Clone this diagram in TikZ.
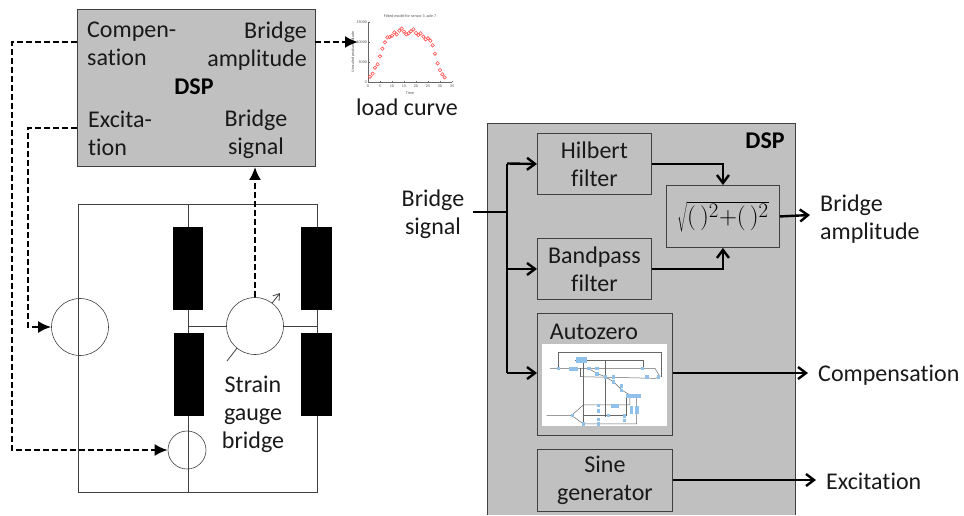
\documentclass[tikz,border=0pt]{standalone}
\usepackage{fontspec}
\setmainfont{Carlito}[Ligatures=NoCommon]
\usetikzlibrary{arrows.meta}

\definecolor{dspgray}{HTML}{C0C0C0}
\definecolor{edgegray}{HTML}{404040}
\definecolor{thumbblue}{HTML}{8FC1EA}
\definecolor{thumbline}{HTML}{666666}

\tikzset{
    label22/.style={font=\fontsize{24}{28}\selectfont, text=black!90, inner sep=0pt, align=center},
    labelleft/.style={label22, align=left},
    labelright/.style={label22, align=right},
    labelbold/.style={font=\fontsize{24}{26}\selectfont\bfseries, text=black, inner sep=0pt},
    dspbox/.style={draw=edgegray, line width=0.9pt, fill=dspgray, inner sep=0pt},
    blockbox/.style={dspbox, anchor=north west},
    gaugebar/.style={fill=black, inner sep=0pt, minimum width=30pt, minimum height=83pt},
    bridgering/.style={circle, draw=edgegray, line width=0.6pt, fill=white, inner sep=0pt},
    wire/.style={draw=black!75, line width=0.8pt},
    dashlink/.style={line width=2.3pt, dash pattern=on 6pt off 3pt, -{Latex[length=13pt,width=12pt]}},
    solidlink/.style={line width=2.4pt, -{Straight Barb[length=8pt,width=12pt]}},
    plotmark/.style={circle, draw=red!70, line width=0.6pt, inner sep=0pt, minimum size=3.4pt},
    ticktext/.style={font=\fontsize{4}{5}\selectfont, text=black!70, inner sep=0pt}
}

\begin{document}
\begin{tikzpicture}[x=1pt, y=-1pt]
\useasboundingbox (0,0) rectangle (964,515);

% Left DSP
\node[blockbox, minimum width=238pt, minimum height=157pt] (dspleft) at (77,9) {};
\node[labelleft, anchor=north west] (compensout) at (87,22) {Compen-\\sation};
\node[labelright, anchor=north east] (ampout) at (307,22) {Bridge\\amplitude};
\node[labelbold] (dsplefttitle) at (194,87) {DSP};
\node[labelleft, anchor=north west] (excout) at (88,111) {Excita-\\tion};
\node[label22] (signalin) at (256,134) {Bridge\\signal};

% Load curve
\coordinate (plotorigin) at (368,82);
\draw[black!60, line width=0.4pt] (368,22) -- (plotorigin) -- (452,82);
\foreach \px in {0,5,...,35} {
    \draw[black!60, line width=0.3pt] (368+2.4*\px,82) -- (368+2.4*\px,80.5);
    \node[ticktext] at (368+2.4*\px,86) {\px};
}
\foreach \py/\plab in {0/0,5/5000,10/10000,15/15000} {
    \draw[black!60, line width=0.3pt] (368,82-4*\py) -- (369.5,82-4*\py);
    \node[ticktext, anchor=east] at (367,82-4*\py) {\plab};
}
\node[ticktext] (plottitle) at (410,16) {Fitted model for sensor 3, axle 7};
\node[ticktext] (plotxlabel) at (410,93) {Time};
\node[ticktext, rotate=90] (plotylabel) at (353,52) {Unscaled peak amplitude};
\foreach \px/\py in {90/230,98/221,105/203,113/193,120/169,127/146,135/127,142/112,149/111,156/107,163/97,170/103,178/92,185/86,192/95,199/103,206/100,213/94,220/88,228/99,235/105,242/100,250/110,257/118,264/115,271/122,278/136,285/161,293/190,300/210,307/223,314/232}
    \node[plotmark] at (340+\px/3,\py/3) {};
\node[label22] (loadcurve) at (407,107) {load curve};

% Strain gauge bridge
\coordinate (topleft) at (78,204);
\coordinate (topmid) at (188,204);
\coordinate (topright) at (317,204);
\coordinate (botleft) at (78,492);
\coordinate (botmid) at (188,492);
\coordinate (botright) at (317,492);
\coordinate (midleft) at (188,326);
\coordinate (midright) at (317,326);
\draw[wire] (topleft) -- (topright) -- (botright) -- (botleft) -- cycle;
\draw[wire] (topmid) -- (botmid);
\draw[wire] (midleft) -- (midright);

\node[gaugebar] (gaugea) at (188,268.5) {};
\node[gaugebar] (gaugeb) at (189,374.5) {};
\node[gaugebar, minimum width=31pt] (gaugec) at (316.5,268.5) {};
\node[gaugebar, minimum width=31pt] (gauged) at (316.5,374.5) {};

\coordinate (needlestart) at (227,361);
\coordinate (needleend) at (280,293);
\draw[wire, -{Straight Barb[length=6pt,width=8pt]}] (needlestart) -- (needleend);
\node[bridgering, minimum size=57pt] (meter) at (255,326) {};
\node[bridgering, minimum size=57pt, fill=none] (supply) at (80,327) {};
\node[bridgering, minimum size=38pt, fill=none] (compsource) at (187,450) {};
\node[label22] (gaugetext) at (253,414) {Strain\\gauge\\bridge};

% Dashed links
\coordinate (compstart) at (77,42);
\coordinate (compcorner) at (12,42);
\coordinate (excstart) at (77,128);
\coordinate (exccorner) at (28,128);
\coordinate (curvestart) at (315,42);
\coordinate (curvein) at (358,42);
\draw[dashlink] (compstart) -- (compcorner) |- (compsource.west);
\draw[dashlink] (excstart) -- (exccorner) |- (supply.west);
\draw[dashlink] (meter.north) -- (dspleft.south -| meter.north);
\draw[dashlink] (curvestart) -- (curvein);

% Right DSP
\fill[dspgray] (487,123) rectangle (795,515);
\coordinate (dspnw) at (487,123);
\coordinate (dspne) at (795,123);
\coordinate (dspsw) at (487,515);
\coordinate (dspse) at (795,515);
\draw[edgegray, line width=0.9pt] (dspsw) -- (dspnw) -- (dspne) -- (dspse);
\node[labelbold] (dsprighttitle) at (765,141) {DSP};

% Blocks
\node[blockbox, minimum width=114pt, minimum height=61pt] (hilbert) at (537,133) {};
\node[label22] at (hilbert.center) {Hilbert\\filter};
\node[blockbox, minimum width=114pt, minimum height=61pt] (bandpass) at (537,238) {};
\node[label22] at (bandpass.center) {Bandpass\\filter};
\node[blockbox, minimum width=135pt, minimum height=122pt] (autozero) at (537,313) {};
\node[label22] at (594,332) {Autozero};
\node[blockbox, minimum width=135pt, minimum height=62pt] (sine) at (537,449) {};
\node[label22] at (sine.center) {Sine\\generator};
\node[blockbox, minimum width=113pt, minimum height=62pt] (root) at (666,185) {};
\node[font=\fontsize{31}{34}\selectfont, inner sep=0pt] at (root.center) {$\sqrt{(\,)^2{+}(\,)^2}$};

% Autozero thumbnail
\node[fill=white, inner sep=0pt, anchor=north west, minimum width=125pt, minimum height=82pt] (thumb) at (542,344) {};
\begin{scope}[shift={(530,310)}, x=0.3333pt, y=-0.3333pt, thumbline, line width=0.5pt]
\draw (60,175) -- (375,175) -- (390,200) -- (375,205) -- (150,200);
\draw (85,175) -- (85,128) -- (395,128) -- (395,200);
\draw (150,175) -- (150,200);
\draw (135,150) -- (340,150) -- (340,180);
\draw (160,150) -- (160,340);
\draw (175,175) -- (200,190) -- (225,200) -- (250,215) -- (275,240) -- (300,255) -- (330,258);
\draw (225,150) -- (225,320);
\draw (50,316) -- (125,316) -- (160,285) -- (240,285) -- (300,285) -- (300,262);
\draw (125,316) -- (160,342) -- (320,342) -- (320,262);
\draw (160,316) -- (235,316) -- (290,316) -- (290,262);
\foreach \tx/\ty in {85/176,177/176,201/176,201/192,226/201,251/201,251/216,275/228,275/242,337/176,351/201,385/201,127/316,205/287,205/303,236/317,283/318,283/332,205/328,205/342,161/342}
    \fill[thumbblue] (\tx-5,\ty-5) rectangle (\tx+5,\ty+5);
\fill[thumbblue] (116,171) rectangle (144,182);
\fill[thumbblue] (137,142) rectangle (172,158);
\fill[thumbblue] (242,281) rectangle (268,293);
\fill[thumbblue] (287,251) rectangle (332,264);
\fill[thumbblue] (300,287) rectangle (310,313);
\fill[thumbblue] (316,287) rectangle (326,313);
\end{scope}

% Solid links
\node[label22] (signalleft) at (433,214) {Bridge\\signal};
\coordinate (signalstart) at (473,212);
\coordinate (branch) at (507,212);
\coordinate (branchtop) at (507,163.5);
\coordinate (branchbot) at (507,373);
\coordinate (compout) at (808,373);
\coordinate (excoutright) at (816,480);
\coordinate (ampoutright) at (810,215);
\draw[line width=2.8pt] (signalstart) -- (branch);
\draw[line width=2.4pt] (branchtop) -- (branchbot);
\draw[solidlink] (branchtop) -- (hilbert.west);
\draw[solidlink] (branch |- bandpass.west) -- (bandpass.west);
\draw[solidlink] (branchbot) -- (branchbot -| autozero.west);
\draw[solidlink] (hilbert.east) -| (root.north);
\draw[solidlink] (bandpass.east) -| (root.south);
\draw[solidlink] (root.east) -- (ampoutright);
\draw[solidlink] (autozero.east |- compout) -- (compout);
\draw[solidlink] (sine.east |- excoutright) -- (excoutright);

% Outputs
\node[labelleft, anchor=west] (ampright) at (820,219) {Bridge\\amplitude};
\node[label22, anchor=west] (compright) at (818,375) {Compensation};
\node[label22, anchor=west] (excright) at (826,481) {Excitation};

\end{tikzpicture}
\end{document}
